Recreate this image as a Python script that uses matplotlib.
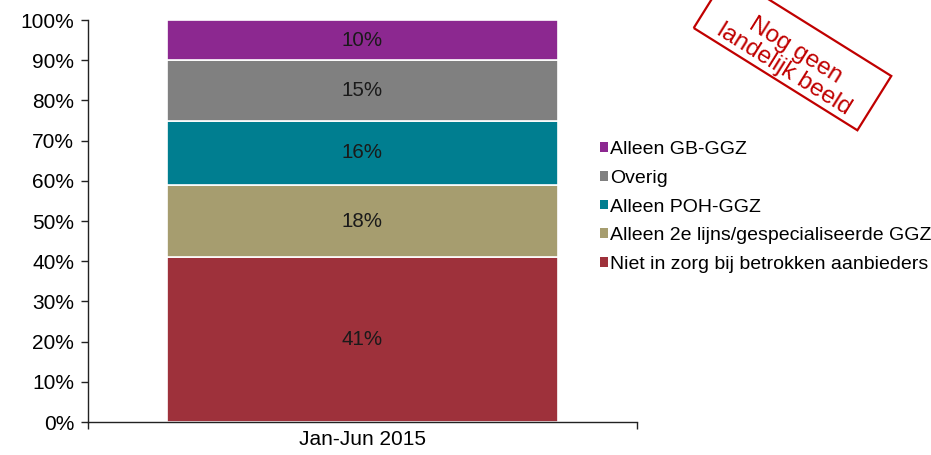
import matplotlib.pyplot as plt
from matplotlib.patches import Patch, Rectangle

plt.rcParams['font.family'] = ['Liberation Sans', 'DejaVu Sans']

# data (percentages, bottom to top)
period = ['Jan-Jun 2015']
categories = ['Niet in zorg bij betrokken aanbieders',
              'Alleen 2e lijns/gespecialiseerde GGZ',
              'Alleen POH-GGZ',
              'Overig',
              'Alleen GB-GGZ']
values = [41, 18, 16, 15, 10]
colors = ['#9E313B', '#A69D6F', '#007E90', '#808080', '#8C2890']

fig = plt.figure(figsize=(9.31, 4.55), dpi=100)
ax = fig.add_axes([0.0945, 0.0725, 0.5895, 0.8835])

bottom = 0
for cat, v, c in zip(categories, values, colors):
    ax.bar(0, v, width=0.712, bottom=bottom, color=c, edgecolor='white',
           linewidth=1.2, label=cat)
    ax.text(0, bottom + v / 2, f'{v}%', ha='center', va='center', fontsize=14.8,
            color='#1a1a1a')
    bottom += v

ax.set_xlim(-0.5, 0.5)
ax.set_ylim(0, 100)
ax.set_yticks(range(0, 101, 10))
ax.set_yticklabels([f'{t}%' for t in range(0, 101, 10)], fontsize=15)
ax.set_xticks([-0.5, 0.5])
ax.set_xticklabels(['', ''])
ax.set_xticks([0], minor=True)
ax.set_xticklabels(period, minor=True, fontsize=15)
ax.tick_params(axis='x', which='minor', length=0, pad=6)
ax.tick_params(axis='both', which='major', length=5, width=1, color='#222222')
ax.tick_params(axis='y', pad=5)
for s in ['top', 'right']:
    ax.spines[s].set_visible(False)
for s in ['left', 'bottom']:
    ax.spines[s].set_color('#222222')
    ax.spines[s].set_linewidth(1)

handles = [Patch(facecolor=c) for c in colors][::-1]
fig.legend(handles, categories[::-1], loc='center left',
           bbox_to_anchor=(0.630, 0.545), frameon=False, fontsize=14,
           handlelength=0.4, handleheight=0.4, handletextpad=0.1,
           labelspacing=0.6, borderpad=0.2)

# "Nog geen landelijk beeld" stamp
cx, cy = 7.925, 4.03
stamp = Rectangle((cx - 0.965, cy - 0.32), 1.93, 0.64, angle=-32,
                  rotation_point='center', fill=False, edgecolor='#C00000',
                  linewidth=1.6, transform=fig.dpi_scale_trans, clip_on=False)
fig.patches.append(stamp)
fig.text(cx - 0.03, cy - 0.08, 'Nog geen\nlandelijk beeld',
         transform=fig.dpi_scale_trans, rotation=-32, rotation_mode='anchor',
         ha='center', va='center', fontsize=17.5, color='#C00000',
         linespacing=0.95)

fig.savefig('out.png', dpi=100)
